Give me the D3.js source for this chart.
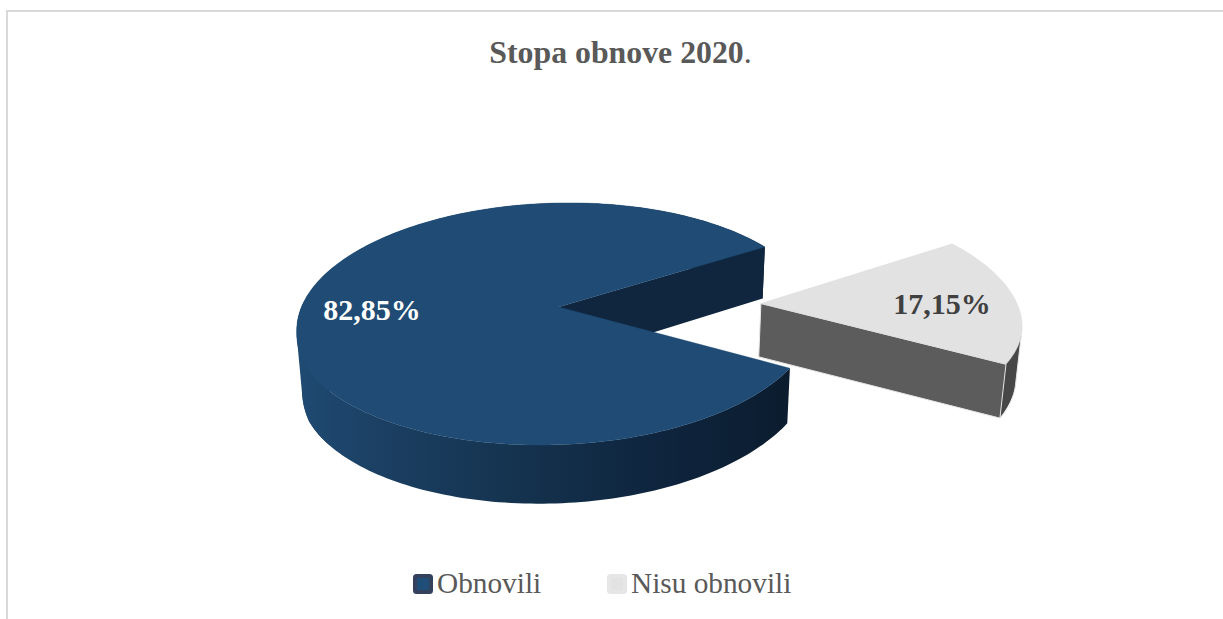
<!DOCTYPE html>
<html>
<head>
<meta charset="utf-8">
<script src="https://cdn.jsdelivr.net/npm/d3@7"></script>
<style>
html,body{margin:0;padding:0;background:#fff;overflow:hidden}
svg{display:block}
text{font-family:"Liberation Serif","Times New Roman",serif}
</style>
</head>
<body>
<script>
const categories = ["Obnovili", "Nisu obnovili"];
const values = [82.85, 17.15];
const valueLabels = ["82,85%", "17,15%"];
const titleText = "Stopa obnove 2020";
const titleSuffix = ".";

const W = 1223, H = 619;
const svg = d3.select("body").append("svg").attr("width", W).attr("height", H);

// Camera: maps a disc point (u right, v toward the viewer) to the screen with perspective
const apex = [558.5, 307], A = 257, C = 118.7, P = 0.14;
const explode = 0.79;
const skew = d3.scaleLinear().domain([0, 0.2, 0.45, 1]).range([-12, -13, -20, -16]).clamp(true);
function project(u, v, bottom) {
  const w = 1 - P * v;
  const B = skew(v);
  const x = apex[0] + (A * u + B * v) / w;
  const y = apex[1] + C * v / w;
  if (!bottom) return [x, y];
  const dy = 51.6 + 0.03 * (y - 247) - 0.005 * (x - 763);
  return [626 + 0.984 * (x - 626), y + dy];
}
const pie = d3.pie().sort(null).startAngle(118.74 * Math.PI / 180).endAngle((118.74 + 360) * Math.PI / 180);
const arcs = pie(values);

function rimPoints(d, off, bottom, n) {
  const out = [];
  for (let i = 0; i <= n; i++) {
    const a = d.startAngle + (d.endAngle - d.startAngle) * i / n;
    out.push(project(off[0] + Math.sin(a), off[1] - Math.cos(a), bottom));
  }
  return out;
}
const line = d3.line().curve(d3.curveLinear);
const closed = pts => line(pts) + "Z";
function offsetOf(d, k) {
  const m = (d.startAngle + d.endAngle) / 2;
  return [k * Math.sin(m), -k * Math.cos(m)];
}

const defs = svg.append("defs");
const grad = defs.append("linearGradient").attr("id", "side").attr("gradientUnits", "userSpaceOnUse")
  .attr("x1", 297).attr("x2", 790).attr("y1", 0).attr("y2", 0);
[[0, "#1f4a72"], [0.18, "#1b3f62"], [0.42, "#153450"], [0.7, "#0f2640"], [1, "#0b1c2e"]]
  .forEach(s => grad.append("stop").attr("offset", s[0]).attr("stop-color", s[1]));

// Frame
svg.append("path").attr("d", line([[7, H], [7, 11], [W, 11]]))
  .attr("fill", "none").attr("stroke", "#d9d9d9").attr("stroke-width", 2);

// Title
const title = svg.append("text").attr("x", 620.5).attr("y", 63).attr("text-anchor", "middle")
  .attr("font-size", 31.8).attr("fill", "#595959");
title.append("tspan").attr("font-weight", "bold").text(titleText);
title.append("tspan").text(titleSuffix);

// Exploded slice (categories[1])
const s = arcs[1];
const so = offsetOf(s, explode);
const sTop = rimPoints(s, so, false, 60), sBot = rimPoints(s, so, true, 60);
const sA = project(so[0], so[1], false), sAb = project(so[0], so[1], true);
const sn = sTop.length - 1;
const g2 = svg.append("g");
const rightPts = sTop.concat(sBot).filter(p => p[0] > 990 && p[1] > 335);
g2.append("path").attr("d", closed(d3.polygonHull(rightPts)))
  .attr("fill", "#474747").attr("stroke", "#e6e6e6").attr("stroke-width", 1);
g2.append("path").attr("d", closed([sA, sTop[sn], sBot[sn], sAb]))
  .attr("fill", "#5c5c5c").attr("stroke", "#e6e6e6").attr("stroke-width", 1);
g2.append("path").attr("d", closed([sA].concat(sTop)))
  .attr("fill", "#e2e2e2").attr("stroke", "#dcdcdc").attr("stroke-width", 0.6);

// Main slice (categories[0])
const m = arcs[0];
const mTop = rimPoints(m, [0, 0], false, 240), mBot = rimPoints(m, [0, 0], true, 240);
const mA = project(0, 0, false), mAb = project(0, 0, true);
const mn = mTop.length - 1;
const g1 = svg.append("g");
g1.append("path").attr("d", closed(mTop.concat(mBot.slice().reverse()))).attr("fill", "url(#side)");
// Left shoulder: straight silhouette between the top and bottom rims
const leftPts = mTop.concat(mBot).filter(p => p[0] < 330 && p[1] > 300);
g1.append("path").attr("d", closed(d3.polygonHull(leftPts))).attr("fill", "url(#side)");
g1.append("path").attr("d", closed([mA, mTop[mn], mBot[mn], mAb])).attr("fill", "#10263f");
g1.append("path").attr("d", closed([mA].concat(mTop))).attr("fill", "#1f4b74")
  .attr("stroke", "#1f4b74").attr("stroke-width", 0.4);

// Value labels
svg.append("text").attr("x", 372).attr("y", 320).attr("text-anchor", "middle")
  .attr("font-size", 30).attr("font-weight", "bold").attr("fill", "#ffffff").text(valueLabels[0]);
svg.append("text").attr("x", 942).attr("y", 314).attr("text-anchor", "middle")
  .attr("font-size", 30).attr("font-weight", "bold").attr("fill", "#404040").text(valueLabels[1]);

// Legend
const legendX = d3.scaleOrdinal().domain(categories).range([413, 607]);
const swatch = ["#1f4e79", "#e2e2e2"], swatchStroke = ["#33415c", "#e6e6e6"];
const leg = svg.append("g").selectAll("g").data(categories).join("g")
  .attr("transform", d => `translate(${legendX(d)},574)`);
leg.append("rect").attr("x", 2).attr("y", 2).attr("width", 16).attr("height", 16).attr("rx", 1.5)
  .attr("fill", (d, i) => swatch[i]).attr("stroke", (d, i) => swatchStroke[i]).attr("stroke-width", 4);
leg.append("text").attr("x", 24).attr("y", 19).attr("font-size", 29.3).attr("fill", "#595959").text(d => d);
</script>
</body>
</html>
